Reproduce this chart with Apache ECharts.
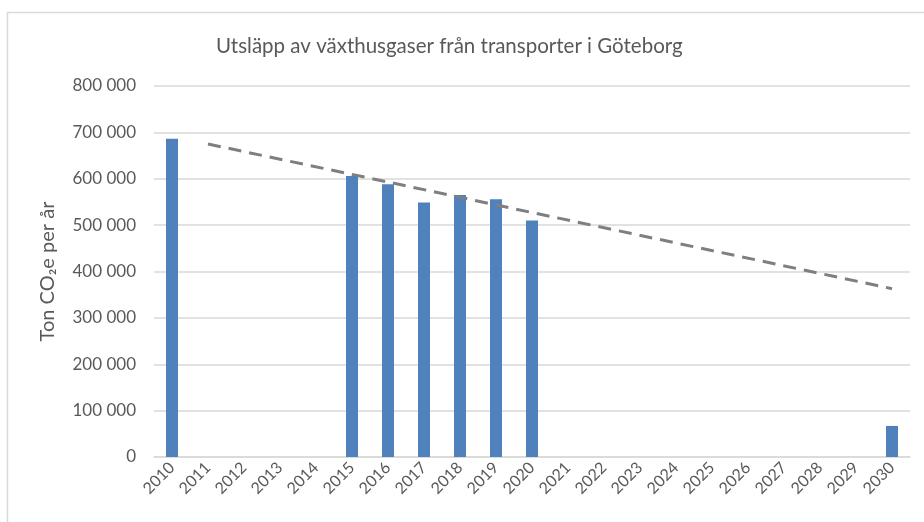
<!DOCTYPE html>
<html>
<head>
<meta charset="utf-8">
<script src="https://cdn.jsdelivr.net/npm/echarts@6/dist/echarts.min.js"></script>
<style>
  html, body { margin: 0; padding: 0; background: #fff; }
  #chart { width: 924px; height: 522px; }
</style>
</head>
<body>
<div id="chart"></div>
<script>
// år
const years = ['2010', '2011', '2012', '2013', '2014', '2015', '2016', '2017', '2018', '2019', '2020',
  '2021', '2022', '2023', '2024', '2025', '2026', '2027', '2028', '2029', '2030'];

// utsläpp (ton CO2e per år), null = saknas
const emissions = [686000, null, null, null, null, 606000, 588000, 549000, 565000, 556000, 510000,
  null, null, null, null, null, null, null, null, null, 67000];

// trendlinje: start 2011, slut 2030
const trend = [null, 675000, null, null, null, null, null, null, null, null, null,
  null, null, null, null, null, null, null, null, null, 363000];

const yTicks = [0, 100000, 200000, 300000, 400000, 500000, 600000, 700000, 800000];

const chart = echarts.init(document.getElementById('chart'));
const font = 'Lato, "Open Sans", sans-serif';

chart.setOption({
  animation: false,
  textStyle: { fontFamily: font },
  title: {
    text: 'Utsläpp av växthusgaser från transporter i Göteborg',
    left: 211,
    top: 31,
    textStyle: { fontFamily: font, fontSize: 20.5, fontWeight: 'normal', color: '#595959' }
  },
  graphic: [{
    type: 'rect',
    shape: { x: 7.5, y: 12.5, width: 1000, height: 1000 },
    style: { fill: 'none', stroke: '#d9d9d9', lineWidth: 1.5 },
    silent: true
  }],
  grid: { left: 154, right: 14, top: 86, bottom: 65 },
  xAxis: {
    type: 'category',
    data: years,
    axisLine: { lineStyle: { color: '#d9d9d9', width: 1.5 } },
    axisTick: { show: false },
    axisLabel: { interval: 0, rotate: 45, fontSize: 16, color: '#595959', margin: 8 }
  },
  yAxis: {
    type: 'value',
    min: yTicks[0],
    max: yTicks[yTicks.length - 1],
    interval: 100000,
    name: 'Ton CO₂e per år',
    nameLocation: 'middle',
    nameGap: 96,
    nameTextStyle: { fontSize: 20, color: '#595959' },
    axisLine: { show: false },
    axisTick: { show: false },
    splitLine: { lineStyle: { color: '#d9d9d9', width: 1.5 } },
    axisLabel: {
      fontSize: 17,
      color: '#595959',
      margin: 18,
      formatter: v => v === 0 ? '0' : String(v).replace(/\B(?=(\d{3})+(?!\d))/g, ' ')
    }
  },
  series: [
    {
      type: 'bar',
      data: emissions,
      barWidth: 12,
      itemStyle: { color: '#4f81bd' }
    },
    {
      type: 'line',
      data: trend,
      connectNulls: true,
      symbol: 'none',
      lineStyle: { color: '#7f7f7f', width: 3, type: [13, 8] },
      z: 3
    }
  ]
});
</script>
</body>
</html>
